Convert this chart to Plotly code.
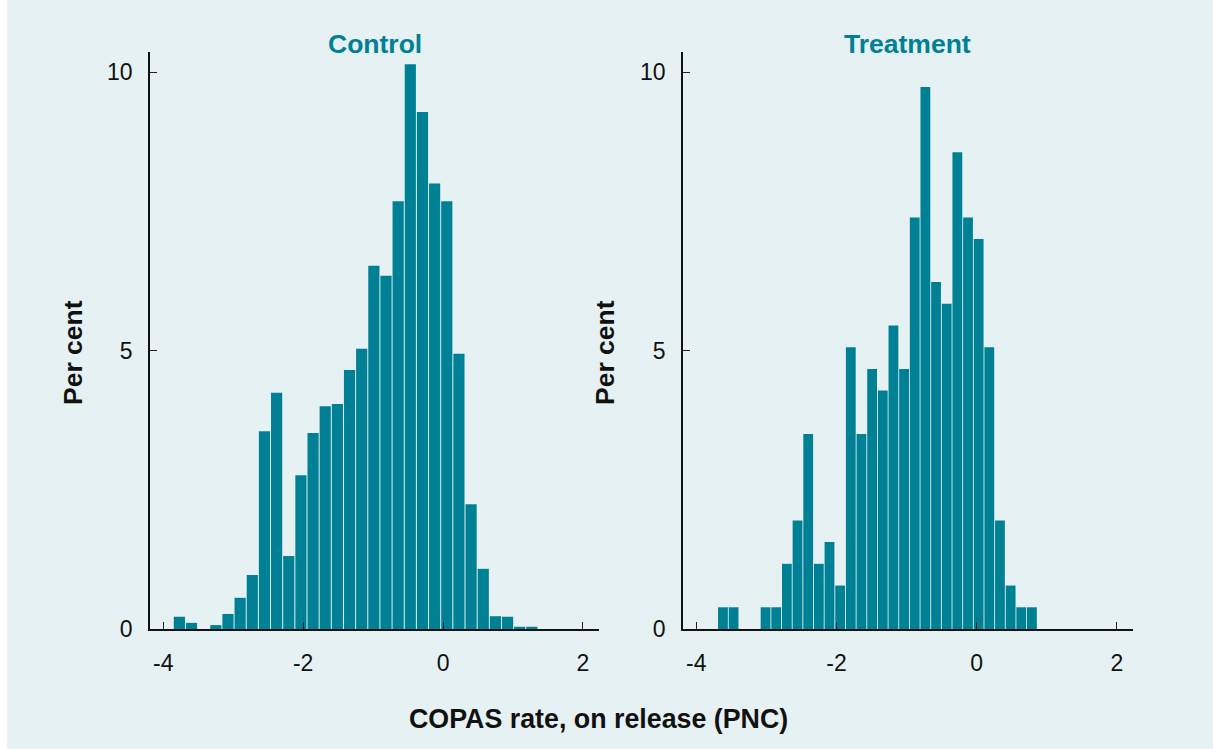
import plotly.graph_objects as go

# ---- data (percent of sample per bin) ----
control_bin_start = -3.857
control_bin_width = 0.1738
control_pct = [0.22, 0.11, 0.0, 0.07, 0.27, 0.56, 0.97, 3.55, 4.24, 1.31,
               2.76, 3.52, 4.00, 4.04, 4.65, 5.03, 6.52, 6.34, 7.68, 10.14,
               9.28, 8.00, 7.68, 4.94, 2.24, 1.08, 0.23, 0.22, 0.04, 0.04]

treat_bin_start = -3.696
treat_bin_width = 0.152
treat_pct = [0.39, 0.39, 0.0, 0.0, 0.39, 0.39, 1.17, 1.95, 3.50, 1.17,
             1.56, 0.78, 5.06, 3.50, 4.67, 4.28, 5.45, 4.67, 7.39, 9.73,
             6.23, 5.84, 8.56, 7.39, 7.00, 5.06, 1.95, 0.78, 0.39, 0.39]

panel_titles = ["Control", "Treatment"]
y_ticks = [0, 5, 10]
y_tick_labels = ["0", "5", "10"]
x_ticks = [-4, -2, 0, 2]
x_tick_labels = ["-4", "-2", "0", "2"]
y_title = "Per cent"
x_title = "COPAS rate, on release (PNC)"

BG = "#E6F1F3"
TEAL = "#008094"
W, H = 1213, 749
FONT = "Liberation Sans, Arial, sans-serif"

fig = go.Figure()
fig.add_trace(go.Bar(x0=control_bin_start + control_bin_width / 2, dx=control_bin_width,
                     y=control_pct, marker_color=TEAL, marker_line_width=0,
                     xaxis="x", yaxis="y", showlegend=False))
fig.add_trace(go.Bar(x0=treat_bin_start + treat_bin_width / 2, dx=treat_bin_width,
                     y=treat_pct, marker_color=TEAL, marker_line_width=0,
                     xaxis="x2", yaxis="y2", showlegend=False))

# plot areas in pixels
left1, right1 = 150, 599
left2, right2 = 683, 1133
top, bottom = 52, 629
ydom = [1 - bottom / H, 1 - top / H]
xrange_ = [-4.19, 2.23]
yrange_ = [0, (bottom - top) / 55.7]

axis_common = dict(showgrid=False, zeroline=False, showline=True, linecolor="#111111",
                   linewidth=1.5, ticks="inside", ticklen=7, tickcolor="#222222",
                   tickwidth=1.2, tickfont=dict(family=FONT, size=23, color="#111111"),
                   automargin=False)

fig.update_layout(
    width=W, height=H,
    margin=dict(l=0, r=0, t=0, b=0),
    paper_bgcolor=BG, plot_bgcolor=BG,
    bargap=0.08,
    xaxis=dict(domain=[left1 / W, right1 / W], range=xrange_, tickvals=x_ticks,
               ticktext=x_tick_labels, anchor="y", ticklabelstandoff=13, **axis_common),
    yaxis=dict(domain=ydom, range=yrange_, tickvals=y_ticks, ticktext=y_tick_labels,
               anchor="x", ticklabelstandoff=11, **axis_common),
    xaxis2=dict(domain=[left2 / W, right2 / W], range=xrange_, tickvals=x_ticks,
                ticktext=x_tick_labels, anchor="y2", ticklabelstandoff=13, **axis_common),
    yaxis2=dict(domain=ydom, range=yrange_, tickvals=y_ticks, ticktext=y_tick_labels,
                anchor="x2", ticklabelstandoff=11, **axis_common),
)

ann = []
for title, (l, r) in zip(panel_titles, [(left1, right1), (left2, right2)]):
    ann.append(dict(text=f"<b>{title}</b>", x=(l + r) / 2 / W, y=1 - 44 / H,
                    xref="paper", yref="paper", xanchor="center", yanchor="middle",
                    showarrow=False, font=dict(family=FONT, size=26.5, color=TEAL)))
for xc in [73, 605]:
    ann.append(dict(text=f"<b>{y_title}</b>", x=xc / W, y=1 - 353 / H, textangle=-90,
                    xref="paper", yref="paper", xanchor="center", yanchor="middle",
                    showarrow=False, font=dict(family=FONT, size=26.5, color="#111111")))
ann.append(dict(text=f"<b>{x_title}</b>", x=598 / W, y=1 - 719 / H,
                xref="paper", yref="paper", xanchor="center", yanchor="middle",
                showarrow=False, font=dict(family=FONT, size=26.8, color="#111111")))
fig.update_layout(annotations=ann)

# white strip along the left edge
fig.add_shape(type="rect", xref="paper", yref="paper", x0=0, x1=7 / W, y0=0, y1=1,
              fillcolor="white", line_width=0, layer="below")

fig.write_html("out.html")
